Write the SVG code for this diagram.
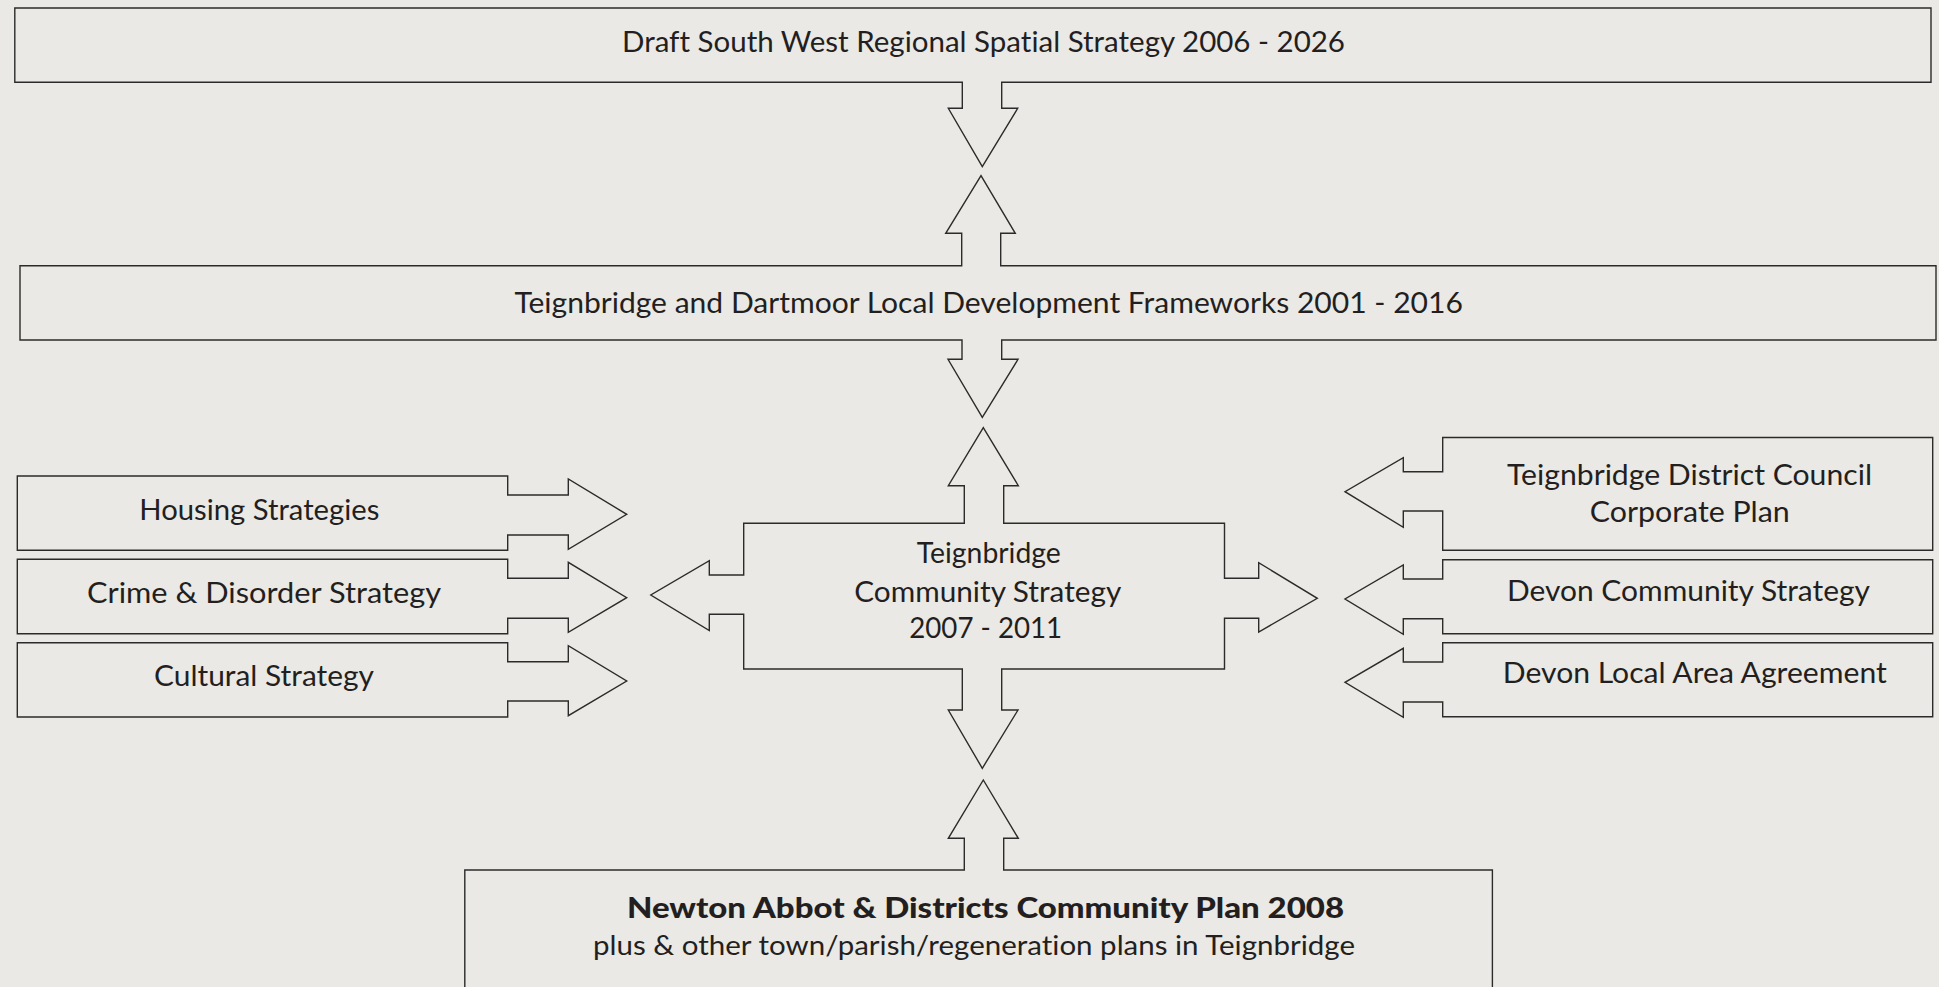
<svg xmlns="http://www.w3.org/2000/svg" width="1939" height="987" viewBox="0 0 1939 987">
<style>
.bg{fill:#ebe9e5}
.shape{fill:#ebe9e5;stroke:#2b2b2b;stroke-width:1.4;stroke-linejoin:miter}
.t{font-family:Lato,"Liberation Sans",sans-serif;font-size:28px;fill:#231f20;font-variant-ligatures:none}
.b{font-weight:900}
</style>
<rect class="bg" x="0" y="0" width="1939" height="987"/>
<g id="connectors"/>
<g id="rss">
<path class="shape" d="M14.8,8 H1931 V82.3 H1001.7 V108.3 H1017.7 L982.3,166.7 L948.3,108.3 H962.3 V82.3 H14.8 Z"/>
<text class="t" x="622" y="51.7" textLength="723" lengthAdjust="spacingAndGlyphs">Draft South West Regional Spatial Strategy 2006 - 2026</text>
</g>
<g id="ldf">
<path class="shape" d="M20,265.7 H961.7 V233.3 H945.7 L981,175.7 L1015.3,233.3 H1000.7 V265.7 H1936 V340 H1001.7 V359.3 H1018 L982.3,417.3 L948,359.3 H962 V340 H20 Z"/>
<text class="t" x="514.4" y="312.7" textLength="948.5" lengthAdjust="spacingAndGlyphs">Teignbridge and Dartmoor Local Development Frameworks 2001 - 2016</text>
</g>
<g id="tcs">
<path class="shape" d="M743.7,523.3 H964.3 V485.7 H948.3 L983.3,427.7 L1018.3,485.7 H1003.7 V523.3 H1224.5 V578.3 H1258.7 V562.7 L1317.3,598.3 L1258.7,632 V618.3 H1224.5 V669 H1001.7 V710 H1018 L982.3,768.3 L948.3,710 H962.3 V669 H743.7 V614.3 H709.3 V630.5 L650.8,595 L709.3,560.7 V575 H743.7 Z"/>
<text class="t" x="916.8" y="563.3" textLength="144" lengthAdjust="spacingAndGlyphs">Teignbridge</text>
<text class="t" x="854.3" y="601.7" textLength="267" lengthAdjust="spacingAndGlyphs">Community Strategy</text>
<text class="t" x="909.2" y="638.3" textLength="153" lengthAdjust="spacingAndGlyphs">2007 - 2011</text>
</g>
<g id="housing">
<path class="shape" d="M17.3,476 H507.7 V495 H568.3 V479 L626.7,514.3 L568.3,549.3 V535 H507.7 V550.3 H17.3 Z"/>
<text class="t" x="139.3" y="520" textLength="240" lengthAdjust="spacingAndGlyphs">Housing Strategies</text>
</g>
<g id="crime">
<path class="shape" d="M17.3,559.3 H507.7 V578.3 H568.3 V562.3 L626.7,597.7 L568.3,632.3 V618.3 H507.7 V633.7 H17.3 Z"/>
<text class="t" x="87" y="602.7" textLength="354" lengthAdjust="spacingAndGlyphs">Crime &amp; Disorder Strategy</text>
</g>
<g id="cultural">
<path class="shape" d="M17.3,642.7 H507.7 V661.7 H568.3 V645.7 L626.7,681 L568.3,715.7 V701 H507.7 V717 H17.3 Z"/>
<text class="t" x="154" y="685.7" textLength="220" lengthAdjust="spacingAndGlyphs">Cultural Strategy</text>
</g>
<g id="corporate">
<path class="shape" d="M1932.7,437.5 V550.3 H1442.7 V511 H1403.3 V527.3 L1345,491.7 L1403.3,457.7 V471.7 H1442.7 V437.5 Z"/>
<text class="t" x="1507" y="485" textLength="365" lengthAdjust="spacingAndGlyphs">Teignbridge District Council</text>
<text class="t" x="1589.8" y="521.7" textLength="200" lengthAdjust="spacingAndGlyphs">Corporate Plan</text>
</g>
<g id="devoncs">
<path class="shape" d="M1932.7,559.7 V633.8 H1442.7 V618.7 H1403.3 V634.3 L1345,599 L1403.3,565 V579 H1442.7 V559.7 Z"/>
<text class="t" x="1507" y="601" textLength="363" lengthAdjust="spacingAndGlyphs">Devon Community Strategy</text>
</g>
<g id="devonlaa">
<path class="shape" d="M1932.7,642.8 V716.7 H1442.7 V702 H1403.3 V717.3 L1345,682.3 L1403.3,648.3 V662 H1442.7 V642.8 Z"/>
<text class="t" x="1502.8" y="683.3" textLength="384" lengthAdjust="spacingAndGlyphs">Devon Local Area Agreement</text>
</g>
<g id="newton">
<path class="shape" d="M464.8,870 H964.3 V838.3 H948.3 L983.3,780 L1018.3,838.3 H1003.7 V870 H1492.4 V1000 H464.8 Z"/>
<text class="t b" x="627" y="918.3" textLength="717" lengthAdjust="spacingAndGlyphs">Newton Abbot &amp; Districts Community Plan 2008</text>
<text class="t" x="593" y="955" textLength="762" lengthAdjust="spacingAndGlyphs" style="font-size:26px">plus &amp; other town/parish/regeneration plans in Teignbridge</text>
</g>
</svg>
